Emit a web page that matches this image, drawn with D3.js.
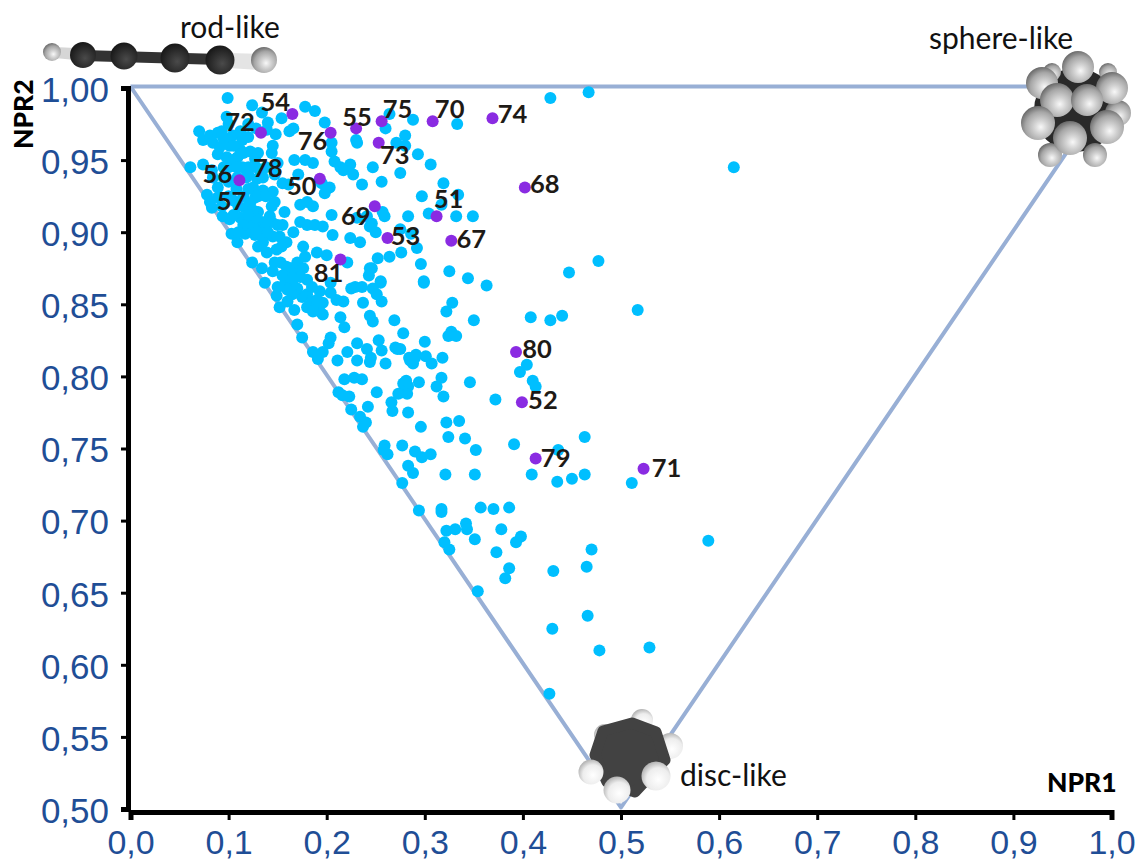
<!DOCTYPE html>
<html><head><meta charset="utf-8">
<script src="https://cdn.jsdelivr.net/npm/d3@7"></script>
<style>html,body{margin:0;padding:0;background:#fff}svg{display:block}</style>
</head><body><svg id="c" width="1139" height="861"></svg>
<script>
const xTicks=[0,.1,.2,.3,.4,.5,.6,.7,.8,.9,1];
const yTicks=[.5,.55,.6,.65,.7,.75,.8,.85,.9,.95,1];
const triangle=[[0,1],[1,1],[.5,.5],[0,1]];
const library=[
[.428,.993],[.467,.997],[.264,.982],[.288,.978],[.333,.975],[.260,.972],[.280,.967],[.271,.962],[.280,.960],[.293,.954],[.306,.947],[.247,.945],[.275,.941],[.256,.935],[.319,.934],[.297,.925],[.334,.926],[.317,.919],[.257,.914],[.259,.911],[.304,.913],[.283,.911],[.332,.911],[.349,.911],[.246,.906],[.250,.900],[.275,.902],[.286,.899],[.292,.889],[.276,.886],[.252,.882],[.264,.883],[.296,.878],[.325,.873],[.477,.880],[.447,.872],[.246,.875],[.255,.866],[.299,.866],[.344,.868],
[.299,.865],[.363,.863],[.328,.851],[.322,.845],[.350,.839],[.517,.846],[.408,.841],[.428,.839],[.440,.842],[.278,.830],[.300,.824],[.327,.831],[.324,.828],[.332,.828],[.275,.819],[.291,.815],[.284,.813],[.288,.809],[.301,.814],[.307,.809],[.318,.813],[.404,.808],[.397,.803],[.410,.797],[.413,.793],[.317,.799],[.312,.793],[.294,.796],[.346,.796],[.280,.796],[.283,.793],[.282,.788],[.277,.789],[.319,.786],[.372,.784],[.283,.775],[.296,.765],[.322,.768],[.335,.769],[.324,.758],[.341,.757],[.352,.749],[.463,.758],[.391,.753],[.436,.749],[.277,.752],[.290,.748],[.297,.744],[.306,.746],[.283,.738],[.288,.733],[.321,.732],[.351,.732],[.409,.732],[.435,.727],[.450,.729],[.463,.732],[.511,.726],[.277,.726],[.615,.945],
[.589,.686],[.470,.680],[.294,.707],[.317,.708],[.317,.706],[.357,.709],[.370,.708],[.386,.709],[.322,.693],[.331,.694],[.342,.698],[.343,.694],[.351,.687],[.378,.694],[.398,.689],[.393,.685],[.320,.685],[.325,.680],[.373,.678],[.386,.667],[.382,.660],[.354,.651],[.431,.665],[.430,.625],[.427,.580],[.465,.668],[.466,.634],[.478,.610],[.529,.612],
[.124,.879],[.134,.875],[.137,.865],[.149,.856],[.152,.848],[.167,.846],[.180,.848],[.196,.843],[.193,.845],[.214,.841],[.218,.834],[.170,.836],[.175,.827],[.204,.827],[.202,.823],[.186,.817],[.196,.817],[.191,.812],[.211,.811],[.221,.817],[.231,.823],[.231,.811],[.241,.819],[.245,.813],[.244,.810],[.253,.825],[.256,.818],[.260,.809],[.270,.820],[.272,.819],[.269,.839],[.247,.838],[.244,.842],[.244,.875],[.243,.870],[.255,.865],[.229,.862],[.225,.861],[.236,.862],[.247,.861],[.237,.851],[.256,.852],[.251,.857],[.217,.852],[.210,.853],[.204,.858],[.193,.859],[.180,.857],[.175,.855],[.196,.851],[.180,.867],[.170,.861],[.158,.865],[.171,.874],[.153,.879],[.163,.875],[.204,.865],
[.218,.798],[.228,.799],[.236,.798],[.212,.789],[.223,.786],[.216,.787],[.225,.777],[.234,.772],[.240,.768],[.237,.765],[.242,.779],[.251,.789],[.266,.782],[.267,.776],[.273,.788],[.278,.795],[.281,.797],[.259,.752],[.262,.746],[.258,.749],[.285,.811],[.290,.813],
[.099,.993],[.124,.988],[.134,.983],[.098,.980],[.154,.979],[.178,.987],[.188,.984],[.198,.976],[.166,.972],[.162,.970],[.140,.976],[.139,.971],[.070,.970],[.074,.964],[.081,.967],[.089,.969],[.093,.970],[.104,.967],[.114,.964],[.120,.966],[.084,.962],[.091,.959],[.101,.960],[.112,.957],[.122,.956],[.089,.954],[.098,.952],[.109,.952],[.127,.951],[.145,.960],[.144,.955],[.205,.962],[.205,.956],[.231,.962],[.230,.964],[.167,.950],[.178,.950],[.186,.948],[.208,.949],[.214,.945],[.224,.947],[.217,.943],[.227,.940],[.236,.933],[.061,.945],[.074,.947],[.083,.943],[.114,.945],[.109,.938],[.084,.938],[.095,.938],[.089,.931],[.129,.937],[.135,.938],[.125,.931],[.135,.929],[.145,.928],[.155,.934],[.171,.940],[.195,.934],[.203,.931],[.198,.927],[.161,.933],[.078,.926],[.083,.917],[.081,.921],[.089,.924],[.094,.911],[.101,.909],[.112,.910],[.119,.906],[.127,.924],[.122,.920],[.117,.917],[.130,.914],[.147,.921],[.144,.918],[.157,.914],[.142,.911],[.134,.907],[.125,.904],[.117,.899],[.127,.898],[.137,.903],[.144,.907],[.103,.899],[.109,.893],[.152,.897],[.166,.900],[.173,.907],[.180,.905],[.188,.905],[.196,.904],[.206,.898],[.205,.912],[.173,.919],[.186,.918],[.180,.921],[.224,.896],[.234,.893],[.231,.910],[.241,.911],[.244,.904],[.135,.893],[.139,.886],[.149,.888],[.159,.893],[.154,.890],[.176,.890],[.178,.883],[.190,.886],[.200,.884],[.221,.879],[.147,.879],[.159,.876],[.170,.879],[.176,.875],[.161,.869],[.173,.869],
[.105,.960],[.095,.965],[.115,.955],[.100,.945],[.120,.945],[.130,.955],[.108,.930],[.120,.930],[.130,.925],[.100,.925],[.110,.918],[.127,.910],[.115,.905],[.135,.897],[.105,.912],[.093,.918],[.150,.905],[.155,.905],[.145,.897],[.145,.873],[.155,.870],[.165,.866],[.150,.862],[.165,.857],[.185,.852],[.190,.850],[.160,.852],[.138,.945],[.147,.940],[.128,.972],[.148,.968],[.120,.975],[.150,.948],
[.095,.945],[.105,.950],[.118,.938],[.128,.945],[.105,.922],[.115,.925],[.125,.915],[.138,.925],[.110,.900],[.120,.912],[.100,.935],[.112,.970],[.100,.975],[.108,.945],[.128,.900],[.140,.900],[.130,.890],[.120,.940],[.165,.868],[.185,.862],[.190,.853],[.186,.845],[.160,.860]];
const compounds=[
["50",.193,.937],["51",.312,.911],["52",.399,.782],["53",.262,.896],["54",.165,.982],["55",.230,.972],["56",.111,.936],["67",.327,.894],["68",.402,.931],["69",.249,.918],["70",.308,.977],["71",.523,.736],["72",.133,.969],["73",.253,.962],["74",.369,.979],["75",.256,.977],["76",.204,.969],["79",.413,.743],["80",.393,.817],["81",.214,.881]];
const labelNudges={"50":[-18,6],"51":[12,-18],"52":[21,-3],"53":[18,-3],"54":[-17,-13],"55":[1,-12],"56":[-22,-7],"67":[20,-3],"68":[20,-4],"69":[-19,9],"70":[17,-13],"71":[23,-2],"72":[-21,-12],"73":[16,11],"74":[20,-5],"75":[16,-13],"76":[-18,7],"79":[20,-2],"80":[21,-4],"81":[-12,12]};
const hiddenLabels=[["57",.103,.922],["78",.140,.945]];
const cornerLabels=["rod-like","sphere-like","disc-like"];

const svg=d3.select("#c");
const x=d3.scaleLinear().domain([0,1]).range([130.5,1111.5]);
const y=d3.scaleLinear().domain([.5,1]).range([809,88]);
const fmtY=d=>d3.format(".2f")(d).replace(".",",");
const fmtX=d=>d3.format(".1f")(d).replace(".",",");
const LBL='Lato, Carlito, sans-serif';

// gradients
const defs=svg.append("defs");
function grad(id,stops){const g=defs.append("radialGradient").attr("id",id).attr("cx","58%").attr("cy","62%").attr("r","62%");
 stops.forEach(s=>g.append("stop").attr("offset",s[0]).attr("stop-color",s[1]));}
grad("hGrad",[[0,"#f8f8f8"],[.3,"#d4d4d4"],[.72,"#a6a6a6"],[1,"#6e6e6e"]]);
grad("whiteGrad",[[0,"#ffffff"],[.65,"#ededed"],[1,"#b5b5b5"]]);
grad("cGrad",[[0,"#4a4a4a"],[.6,"#2c2c2c"],[1,"#181818"]]);

// triangle
svg.append("path").datum(triangle).attr("transform","translate(0,-1.5)")
 .attr("d",d3.line().x(d=>x(d[0])).y(d=>y(d[1])))
 .attr("fill","none").attr("stroke","#98afd5").attr("stroke-width",4).attr("stroke-linejoin","round");

// points
svg.append("g").selectAll("circle").data(library).join("circle")
 .attr("cx",d=>x(d[0])).attr("cy",d=>y(d[1])).attr("r",6).attr("fill","#00bfff");
svg.append("g").selectAll("circle").data(compounds).join("circle")
 .attr("cx",d=>x(d[1])).attr("cy",d=>y(d[2])).attr("r",6).attr("fill","#8a2be2");

// axes
const xAxis=d3.axisBottom(x).tickValues(xTicks).tickFormat(fmtX).tickSize(8).tickPadding(10);
const yAxis=d3.axisLeft(y).tickValues(yTicks).tickFormat(fmtY).tickSize(7).tickPadding(12);
const gx=svg.append("g").attr("transform","translate(0,812)").call(xAxis);
const gy=svg.append("g").attr("transform","translate(128,0)").call(yAxis);
[gx,gy].forEach(g=>{
 g.select(".domain").attr("stroke","#000").attr("stroke-width",5);
 g.selectAll(".tick line").attr("stroke","#000").attr("stroke-width",3);
 g.selectAll("text").attr("fill","#1f4e96").attr("font-family","'Liberation Sans',Arial,sans-serif").attr("font-size",34);
});
gy.selectAll("text").attr("font-size",35).attr("dy","0.38em");

// compound labels
const lab=svg.append("g").attr("font-family",LBL).attr("font-weight",700).attr("font-size",25.5).attr("fill","#1e1a16").attr("text-anchor","middle").attr("dominant-baseline","central");
lab.selectAll("text.a").data(compounds).join("text").attr("class","a")
 .attr("x",d=>x(d[1])+labelNudges[d[0]][0]).attr("y",d=>y(d[2])+labelNudges[d[0]][1]).text(d=>d[0]);
lab.selectAll("text.b").data(hiddenLabels).join("text").attr("class","b")
 .attr("x",d=>x(d[1])).attr("y",d=>y(d[2])).text(d=>d[0]);

// axis titles & shape labels
svg.append("text").attr("transform","translate(33,149) rotate(-90)").attr("font-family",LBL).attr("font-weight",900).attr("font-size",26.5).text("NPR2");
svg.append("text").attr("x",1047).attr("y",792).attr("font-family",LBL).attr("font-weight",900).attr("font-size",26.5).text("NPR1");
const sh=svg.append("g").attr("font-family",LBL).attr("font-size",30).attr("fill","#111");
sh.append("text").attr("x",180).attr("y",38).text(cornerLabels[0]);
sh.append("text").attr("x",929).attr("y",49).text(cornerLabels[1]);
sh.append("text").attr("x",680).attr("y",786).text(cornerLabels[2]);

// molecule illustrations
const rod=svg.append("g");
rod.append("path").attr("d","M55,47L75,48L75,60L55,58Z").attr("fill","#d6d6d6");
rod.append("path").attr("d","M83,50L220,54L220,65L83,61Z").attr("fill","#333");
rod.append("path").attr("d","M228,53L262,54L262,70L228,68Z").attr("fill","#e4e4e4");
[[52,52,9,"hGrad"],[264,60,13,"hGrad"],[83,55,13,"cGrad"],[124,56,13.5,"cGrad"],[175,58,14.5,"cGrad"],[220,60,14.5,"cGrad"]].forEach(a=>
 rod.append("circle").attr("cx",a[0]).attr("cy",a[1]).attr("r",a[2]).attr("fill",`url(#${a[3]})`));

const sph=svg.append("g");
sph.append("circle").attr("cx",1076).attr("cy",110).attr("r",42).attr("fill","#2a2a2a");
[[1118,113,13],[1050,155,12],[1095,155,12],[1052,72,9],[1108,72,9],[1078,67,16],[1042,83,16],[1112,88,16],[1057,100,17],[1087,100,16],[1038,123,17],[1107,127,17],[1070,138,17]].forEach(a=>
 sph.append("circle").attr("cx",a[0]).attr("cy",a[1]).attr("r",a[2]).attr("fill","url(#hGrad)"));

const disc=svg.append("g");
[[605,735,11],[642,720,11],[670,746,13]].forEach(a=>disc.append("circle").attr("cx",a[0]).attr("cy",a[1]).attr("r",a[2]).attr("fill","url(#whiteGrad)"));
disc.append("path").attr("d","M595,755L603,731L632,723L656,732L665,760L635,792L607,782Z").attr("fill","#424242").attr("stroke","#424242").attr("stroke-width",11).attr("stroke-linejoin","round");
[[591,772,12.5],[617,790,13.5],[656,776,14.5]].forEach(a=>disc.append("circle").attr("cx",a[0]).attr("cy",a[1]).attr("r",a[2]).attr("fill","url(#whiteGrad)"));
</script></body></html>
